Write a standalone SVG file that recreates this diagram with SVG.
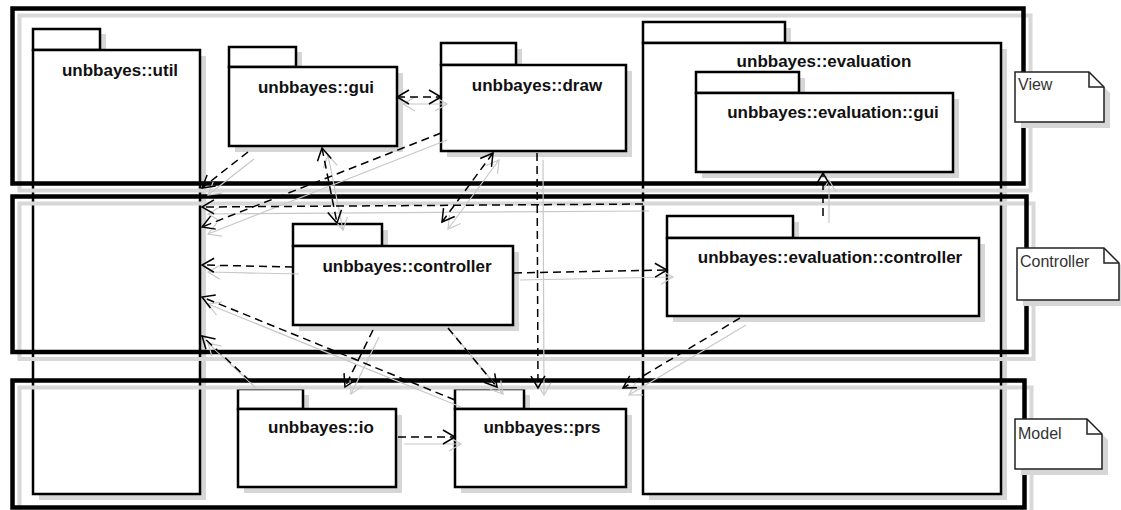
<svg xmlns="http://www.w3.org/2000/svg" width="1121" height="510" viewBox="0 0 1121 510">
<style>
.pk rect{fill:#fff;stroke:#000;stroke-width:2.5}
.pk .sh{fill:#d6d6d6;stroke:none}
.lbl{font-family:"Liberation Sans",Arial,sans-serif;font-weight:bold;font-size:17px;text-anchor:middle;fill:#111}
.frame{fill:none;stroke:#000;stroke-width:4.5}
.fsh{fill:none;stroke:#d8d8d8;stroke-width:4}
.note .nb{fill:#fff;stroke:#222;stroke-width:1.5}
.note .nsh{fill:#d6d6d6;stroke:none}
.note .nf{fill:none;stroke:#222;stroke-width:1.5}
.ntxt{font-family:"Liberation Sans",Arial,sans-serif;font-size:16px;fill:#333}
.dep{fill:none;stroke:#000;stroke-width:1.5;stroke-dasharray:8 5;marker-end:url(#arr)}
.bi{marker-start:url(#arr)}
.depsh{fill:none;stroke:#c8c8c8;stroke-width:1.2;marker-end:url(#arrg)}
.bish{marker-start:url(#arrg)}
</style>
<defs>
<marker id="arr" markerUnits="userSpaceOnUse" markerWidth="18" markerHeight="18" viewBox="-15 -9 18 18" refX="0" refY="0" orient="auto-start-reverse">
<path d="M-12,-7 L0,0 L-12,7" fill="none" stroke="#000" stroke-width="1.5" stroke-dasharray="none"/>
</marker>
<marker id="arrg" markerUnits="userSpaceOnUse" markerWidth="18" markerHeight="18" viewBox="-15 -9 18 18" refX="0" refY="0" orient="auto-start-reverse">
<path d="M-12,-7 L0,0 L-12,7" fill="none" stroke="#c8c8c8" stroke-width="1.2"/>
</marker>
</defs>
<rect width="1121" height="510" fill="#fff"/>

<g id="pkg-util" class="pk">
<rect class="sh" x="39" y="34" width="67" height="22"/>
<rect class="sh" x="39" y="56" width="167" height="444"/>
<rect x="33" y="29" width="67" height="21"/>
<rect x="33" y="50" width="167" height="444"/>
<text class="lbl" x="120" y="76">unbbayes::util</text>
</g>

<g id="pkg-gui" class="pk">
<rect class="sh" x="235" y="52" width="67" height="21"/>
<rect class="sh" x="235" y="73" width="168" height="79"/>
<rect x="229" y="47" width="67" height="20"/>
<rect x="229" y="67" width="168" height="79"/>
<text class="lbl" x="316" y="93">unbbayes::gui</text>
</g>

<g id="pkg-draw" class="pk">
<rect class="sh" x="447" y="49" width="75" height="22"/>
<rect class="sh" x="447" y="71" width="185" height="86"/>
<rect x="441" y="43" width="75" height="22"/>
<rect x="441" y="65" width="185" height="86"/>
<text class="lbl" x="537" y="91">unbbayes::draw</text>
</g>

<g id="pkg-evaluation" class="pk">
<rect class="sh" x="649" y="28" width="142" height="21"/>
<rect class="sh" x="649" y="49" width="358" height="451"/>
<rect x="643" y="22" width="142" height="21"/>
<rect x="643" y="43" width="358" height="451"/>
<text class="lbl" x="824" y="67">unbbayes::evaluation</text>
</g>

<g id="pkg-evaluation-gui" class="pk">
<rect class="sh" x="702" y="78" width="103" height="21"/>
<rect class="sh" x="702" y="99" width="257" height="79"/>
<rect x="696" y="72" width="103" height="21"/>
<rect x="696" y="93" width="257" height="79"/>
<text class="lbl" x="833" y="118">unbbayes::evaluation::gui</text>
</g>

<g id="pkg-controller" class="pk">
<rect class="sh" x="299" y="230" width="89" height="22"/>
<rect class="sh" x="299" y="252" width="220" height="79"/>
<rect x="293" y="224" width="89" height="22"/>
<rect x="293" y="246" width="220" height="79"/>
<text class="lbl" x="407" y="272">unbbayes::controller</text>
</g>

<g id="pkg-evaluation-controller" class="pk">
<rect class="sh" x="673" y="222" width="126" height="22"/>
<rect class="sh" x="673" y="244" width="312" height="78"/>
<rect x="667" y="216" width="126" height="22"/>
<rect x="667" y="238" width="312" height="78"/>
<text class="lbl" x="830" y="263">unbbayes::evaluation::controller</text>
</g>

<g id="pkg-io" class="pk">
<rect class="sh" x="244" y="395" width="65" height="20"/>
<rect class="sh" x="244" y="415" width="158" height="78"/>
<rect x="238" y="389" width="65" height="20"/>
<rect x="238" y="409" width="158" height="78"/>
<text class="lbl" x="321" y="433">unbbayes::io</text>
</g>

<g id="pkg-prs" class="pk">
<rect class="sh" x="461" y="395" width="69" height="20"/>
<rect class="sh" x="461" y="415" width="171" height="78"/>
<rect x="455" y="389" width="69" height="20"/>
<rect x="455" y="409" width="171" height="78"/>
<text class="lbl" x="542" y="433">unbbayes::prs</text>
</g>

<g id="layers">
<rect class="fsh" x="19.5" y="15.5" width="1011" height="175"/>
<rect class="fsh" x="19.5" y="203.5" width="1014" height="155.5"/>
<rect class="fsh" x="19.5" y="387.5" width="1012" height="127"/>
<rect id="layer-view" class="frame" x="12.5" y="8.5" width="1011" height="175"/>
<rect id="layer-controller" class="frame" x="12.5" y="196.5" width="1014" height="155.5"/>
<rect id="layer-model" class="frame" x="12.5" y="380.5" width="1012" height="127"/>
</g>

<g id="connectors">
<g transform="translate(6,7)">
<path class="depsh bish" d="M397,97 L441,97"/>
<path class="depsh" d="M248,152 L202,188"/>
<path class="depsh bish" d="M322,148 L337,223"/>
<path class="depsh" d="M441,133 L202,227"/>
<path class="depsh" d="M643,204 L202,207"/>
<path class="depsh bish" d="M493,153 L442,222"/>
<path class="depsh" d="M537,153 L538,388"/>
<path class="depsh" d="M293,267 L202,265"/>
<path class="depsh" d="M514,273 L667,270"/>
<path class="depsh" d="M823,216 L823,173"/>
<path class="depsh" d="M373,330 L345,387"/>
<path class="depsh" d="M448,328 L497,387"/>
<path class="depsh" d="M740,318 L623,388"/>
<path class="depsh" d="M455,400 L202,297"/>
<path class="depsh" d="M250,381 L202,336"/>
<path class="depsh" d="M398,437 L455,437"/>
</g>
<path class="dep bi" d="M397,97 L441,97"/>
<path class="dep" d="M248,152 L202,188"/>
<path class="dep bi" d="M322,148 L337,223"/>
<path class="dep" d="M441,133 L202,227"/>
<path class="dep" d="M643,204 L202,207"/>
<path class="dep bi" d="M493,153 L442,222"/>
<path class="dep" d="M537,153 L538,388"/>
<path class="dep" d="M293,267 L202,265"/>
<path class="dep" d="M514,273 L667,270"/>
<path class="dep" d="M823,216 L823,173"/>
<path class="dep" d="M373,330 L345,387"/>
<path class="dep" d="M448,328 L497,387"/>
<path class="dep" d="M740,318 L623,388"/>
<path class="dep" d="M455,400 L202,297"/>
<path class="dep" d="M250,381 L202,336"/>
<path class="dep" d="M398,437 L455,437"/>
</g>

<g id="note-view" class="note">
<path class="nsh" d="M1021,78 H1095 L1110,93 V128 H1021 Z"/>
<path class="nb" d="M1015,72 H1089 L1104,87 V122 H1015 Z"/>
<path class="nf" d="M1089,72 V87 H1104"/>
<text class="ntxt" x="1018" y="90">View</text>
</g>

<g id="note-controller" class="note">
<path class="nsh" d="M1023,254 H1110 L1125,269 V306 H1023 Z"/>
<path class="nb" d="M1017,248 H1104 L1119,263 V300 H1017 Z"/>
<path class="nf" d="M1104,248 V263 H1119"/>
<text class="ntxt" x="1020" y="267">Controller</text>
</g>

<g id="note-model" class="note">
<path class="nsh" d="M1021,425 H1093 L1108,440 V475 H1021 Z"/>
<path class="nb" d="M1015,419 H1087 L1102,434 V469 H1015 Z"/>
<path class="nf" d="M1087,419 V434 H1102"/>
<text class="ntxt" x="1018" y="439">Model</text>
</g>
</svg>
